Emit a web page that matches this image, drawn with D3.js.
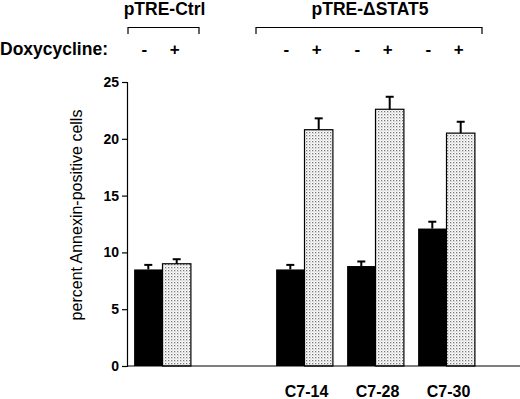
<!DOCTYPE html>
<html>
<head>
<meta charset="utf-8">
<script src="https://cdn.jsdelivr.net/npm/d3@7"></script>
<style>
  body { margin: 0; background: #fff; }
  text { font-family: Arial, "Liberation Sans", sans-serif; fill: #000; }
</style>
</head>
<body>
<div id="chart"></div>
<script>
// data
const groups = ["Ctrl", "gap", "C7-14", "C7-28", "C7-30"];
const xLabels = ["", "", "C7-14", "C7-28", "C7-30"];
const minusVals = [8.5, null, 8.5, 8.8, 12.1];
const minusErr = [0.4, null, 0.4, 0.4, 0.6];
const plusVals = [9.0, null, 20.8, 22.6, 20.5];
const plusErr = [0.4, null, 1.0, 1.1, 1.0];
const yTicks = [0, 5, 10, 15, 20, 25];

const width = 520, height = 399;
const margin = { top: 82, left: 127, bottom: 33 };
const y0 = height - margin.bottom;

const svg = d3.select("#chart").append("svg")
    .attr("width", width)
    .attr("height", height);

// stipple fill for the + doxycycline bars
const pat = svg.append("defs").append("pattern")
    .attr("id", "dots")
    .attr("patternUnits", "userSpaceOnUse")
    .attr("width", 3).attr("height", 3);
pat.append("rect").attr("width", 3).attr("height", 3).attr("fill", "#fff");
pat.append("rect").attr("x", 0).attr("y", 0).attr("width", 1.3).attr("height", 1.3).attr("fill", "#777");
pat.append("rect").attr("x", 1.5).attr("y", 1.5).attr("width", 1).attr("height", 1).attr("fill", "#aaa");

const x = d3.scaleBand()
    .domain(groups)
    .range([margin.left, 482])
    .paddingInner(0.2)
    .paddingOuter(0.1);

const y = d3.scaleLinear()
    .domain([0, 25])
    .range([y0, margin.top]);

const half = x.bandwidth() / 2;

// y axis
const yAxis = svg.append("g")
    .attr("transform", `translate(${margin.left},0)`)
    .call(d3.axisLeft(y).tickValues(yTicks).tickSize(5).tickPadding(3));
yAxis.select(".domain").attr("stroke", "#000").attr("stroke-width", 1.2);
yAxis.selectAll(".tick line").attr("stroke", "#000").attr("stroke-width", 1.2);
yAxis.selectAll("text")
    .style("font-size", "14px")
    .style("font-weight", "bold")
    .attr("fill", "#000");

svg.append("text")
    .attr("transform", `translate(78,${(y0 + margin.top) / 2 - 9}) rotate(-90)`)
    .attr("text-anchor", "middle")
    .attr("dominant-baseline", "middle")
    .style("font-size", "16px")
    .text("percent Annexin-positive cells");

// bars
const idx = d3.range(groups.length).filter(i => minusVals[i] !== null);

svg.selectAll(".bar-minus")
    .data(idx)
    .join("rect")
    .attr("class", "bar-minus")
    .attr("x", i => x(groups[i]))
    .attr("y", i => y(minusVals[i]))
    .attr("width", half)
    .attr("height", i => y0 - y(minusVals[i]))
    .attr("fill", "#000");

svg.selectAll(".bar-plus")
    .data(idx)
    .join("rect")
    .attr("class", "bar-plus")
    .attr("x", i => x(groups[i]) + half)
    .attr("y", i => y(plusVals[i]))
    .attr("width", half)
    .attr("height", i => y0 - y(plusVals[i]))
    .attr("fill", "url(#dots)")
    .attr("stroke", "#000")
    .attr("stroke-width", 1.2);

// error bars (upper half only)
function errBars(vals, errs, off) {
    const g = svg.append("g").attr("stroke", "#000").attr("stroke-width", 2);
    idx.forEach(i => {
        const cx = x(groups[i]) + off;
        const top = y(vals[i] + errs[i]);
        g.append("line")
            .attr("x1", cx).attr("x2", cx)
            .attr("y1", y(vals[i])).attr("y2", top);
        g.append("line")
            .attr("x1", cx - 4).attr("x2", cx + 4)
            .attr("y1", top).attr("y2", top);
    });
}
errBars(minusVals, minusErr, half / 2);
errBars(plusVals, plusErr, half * 1.5);

// baseline
svg.append("line")
    .attr("x1", margin.left).attr("x2", 520)
    .attr("y1", y0).attr("y2", y0)
    .attr("stroke", "#000").attr("stroke-width", 1.2);

// x labels
svg.selectAll(".xlab")
    .data(idx.filter(i => xLabels[i]))
    .join("text")
    .attr("class", "xlab")
    .attr("x", i => x(groups[i]) + half + 2)
    .attr("y", 397)
    .attr("text-anchor", "middle")
    .style("font-size", "16px")
    .style("font-weight", "bold")
    .text(i => xLabels[i]);

// header: doxycycline signs
svg.append("text")
    .attr("x", 0).attr("y", 55)
    .style("font-size", "17.5px")
    .style("font-weight", "bold")
    .text("Doxycycline:");

idx.forEach(i => {
    svg.append("text")
        .attr("x", x(groups[i]) + half / 2 - 4).attr("y", 55)
        .attr("text-anchor", "middle")
        .style("font-size", "17px")
        .style("font-weight", "bold")
        .text("-");
    svg.append("text")
        .attr("x", x(groups[i]) + half * 1.5 - 2).attr("y", 55)
        .attr("text-anchor", "middle")
        .style("font-size", "17px")
        .style("font-weight", "bold")
        .text("+");
});

// brackets and construct titles
const brackets = [
    { label: "pTRE-Ctrl", x1: 128, x2: 199 },
    { label: "pTRE-\u0394STAT5", x1: 256, x2: 482 }
];
brackets.forEach(b => {
    svg.append("path")
        .attr("d", `M${b.x1},34V27.5H${b.x2}V34`)
        .attr("fill", "none")
        .attr("stroke", "#000")
        .attr("stroke-width", 1.2);
    svg.append("text")
        .attr("x", (b.x1 + b.x2) / 2 + 1).attr("y", 15)
        .attr("text-anchor", "middle")
        .style("font-size", "17.5px")
        .style("font-weight", "bold")
        .text(b.label);
});
</script>
</body>
</html>
